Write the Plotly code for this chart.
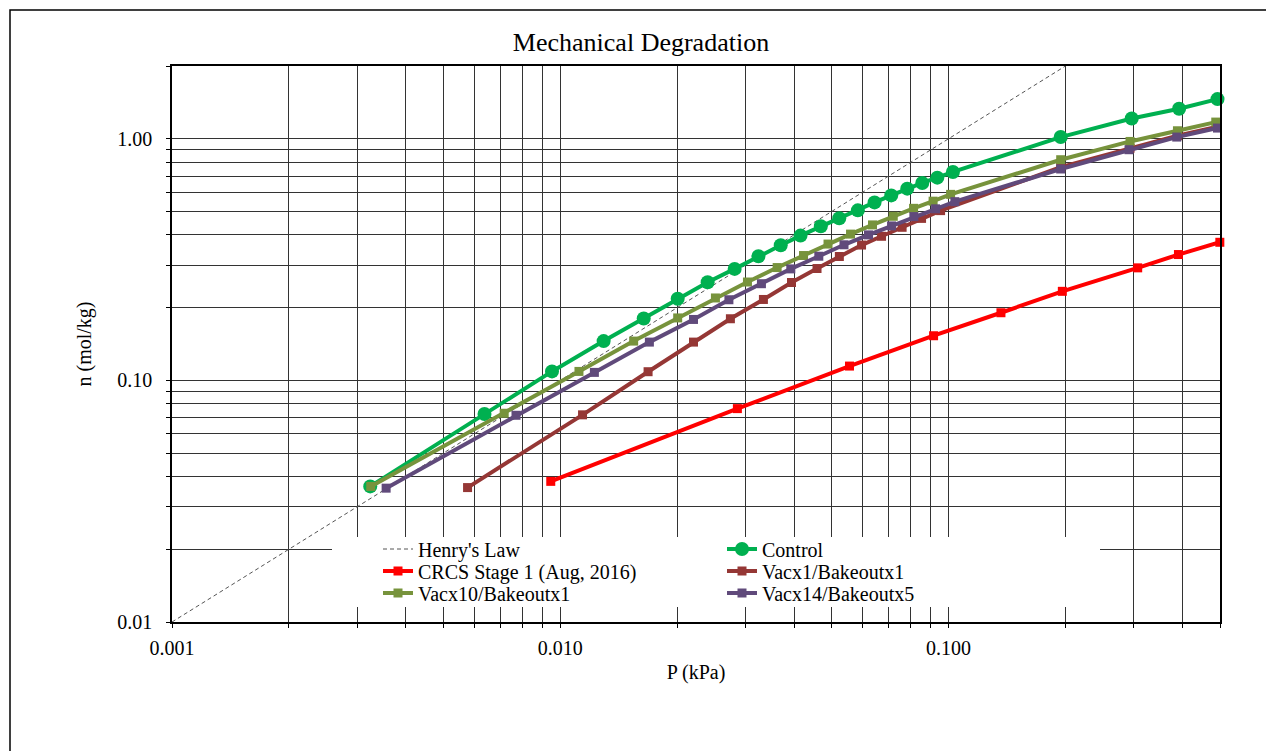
import plotly.graph_objects as go

# ---- data ----
henry_p = [0.001, 0.2]
henry_n = [0.01, 2.0]

control_p = [0.00324, 0.00638, 0.00952, 0.01293, 0.0164, 0.02006, 0.02396, 0.02812, 0.03238, 0.03696,
             0.04156, 0.04688, 0.05229, 0.05838, 0.06446, 0.07117, 0.07826, 0.08554, 0.09353, 0.1026,
             0.1944, 0.2962, 0.3923, 0.4926]
control_n = [0.0364, 0.0726, 0.1089, 0.1454, 0.1804, 0.2176, 0.2548, 0.2893, 0.3264, 0.3623,
             0.3973, 0.4341, 0.4686, 0.5055, 0.5453, 0.5828, 0.6214, 0.6561, 0.6901, 0.7286,
             1.016, 1.213, 1.330, 1.459]

crcs_p = [0.00945, 0.02858, 0.05557, 0.09149, 0.1364, 0.1963, 0.3069, 0.3908, 0.4995]
crcs_n = [0.0382, 0.0764, 0.1146, 0.153, 0.1905, 0.2336, 0.2922, 0.3317, 0.3728]

vac1_p = [0.00577, 0.01141, 0.01683, 0.02203, 0.02742, 0.03335, 0.03939, 0.04583, 0.05232, 0.05968,
          0.06719, 0.07591, 0.08519, 0.09537, 0.1944, 0.2933, 0.3885, 0.4926]
vac1_n = [0.036, 0.072, 0.1086, 0.144, 0.1799, 0.2162, 0.2541, 0.2903, 0.3255, 0.3631,
          0.3947, 0.43, 0.4681, 0.5041, 0.7624, 0.9136, 1.029, 1.121]

vac10_p = [0.00325, 0.00717, 0.01117, 0.01545, 0.02006, 0.02509, 0.03034, 0.03618, 0.0423, 0.04892,
           0.05591, 0.06369, 0.07203, 0.08124, 0.09123, 0.1012, 0.1944, 0.2933, 0.3885, 0.4876]
vac10_n = [0.0364, 0.0731, 0.1089, 0.1454, 0.1813, 0.2193, 0.2553, 0.293, 0.3286, 0.3665,
           0.403, 0.4399, 0.4776, 0.5152, 0.5516, 0.5885, 0.8188, 0.9746, 1.079, 1.172]

vac14_p = [0.00356, 0.00769, 0.01224, 0.01696, 0.02203, 0.02718, 0.03296, 0.03923, 0.04632, 0.05378,
           0.06219, 0.0713, 0.08139, 0.09258, 0.1038, 0.1944, 0.2915, 0.3869, 0.4926]
vac14_n = [0.0358, 0.0717, 0.1079, 0.144, 0.1787, 0.2156, 0.2512, 0.2893, 0.3264, 0.364,
           0.4, 0.4357, 0.4762, 0.5128, 0.549, 0.7495, 0.9006, 1.016, 1.107]

x_tickvals = [0.001, 0.01, 0.1]
x_ticktext = ["0.001", "0.010", "0.100"]
y_tickvals = [0.01, 0.1, 1.0]
y_ticktext = ["0.01", "0.10", "1.00"]

X_RANGE = [-3, -0.30103]   # log10 of 0.001 .. 0.5
Y_RANGE = [-2, 0.30103]    # log10 of 0.01 .. 2

FONT = "Liberation Serif, Times New Roman, serif"
GRID = "#333333"

# page layout (the page body has an 8px margin)
OFF = 8
WF, HF = 1274 - OFF, 751 - OFF
L, R, T = 172 - OFF, 54, 66 - OFF
B = HF - (622 - OFF)
PW, PH = WF - L - R, HF - T - B


def fx(page_x):
    return (page_x - OFF - L) / PW


def fy(page_y):
    return (HF - B - (page_y - OFF)) / PH


def dx(page_x):  # page pixel -> data value on the log x axis
    return 10 ** (X_RANGE[0] + fx(page_x) * (X_RANGE[1] - X_RANGE[0]))


def dy(page_y):  # page pixel -> data value on the log y axis
    return 10 ** (Y_RANGE[0] + fy(page_y) * (Y_RANGE[1] - Y_RANGE[0]))


fig = go.Figure()

# legend slots: (legend id, column x, row y) in page pixels
slots = {
    "legend": (378, 549), "legend2": (722, 549),
    "legend3": (378, 571), "legend4": (722, 571),
    "legend5": (378, 593), "legend6": (722, 593),
}

fig.add_trace(go.Scatter(x=henry_p, y=henry_n, name="Henry's Law", mode="lines",
                         line=dict(color="#555555", width=1, dash="4px,3px"),
                         legend="legend"))


def series(px, n, name, color, symbol, size, leg):
    fig.add_trace(go.Scatter(x=px, y=n, name=name, mode="lines+markers",
                             line=dict(color=color, width=4),
                             marker=dict(color=color, symbol=symbol, size=size),
                             cliponaxis=False, legend=leg))


series(control_p, control_n, "Control", "#00B050", "circle", 14, "legend2")
series(crcs_p, crcs_n, "CRCS Stage 1 (Aug, 2016)", "#FF0000", "square", 9, "legend3")
series(vac1_p, vac1_n, "Vacx1/Bakeoutx1", "#953735", "square", 9, "legend4")
series(vac10_p, vac10_n, "Vacx10/Bakeoutx1", "#77933C", "square", 9, "legend5")
series(vac14_p, vac14_n, "Vacx14/Bakeoutx5", "#604A7B", "square", 9, "legend6")

x_minor = [m * 10.0 ** e for e in range(-3, 0) for m in range(2, 10)]
y_minor = [m * 10.0 ** e for e in range(-2, 1) for m in range(2, 10) if m * 10.0 ** e <= 2.0]

legends = {}
for key, (lx, ly) in slots.items():
    legends[key] = dict(x=fx(lx), xanchor="left", y=fy(ly), yanchor="middle",
                        bgcolor="rgba(0,0,0,0)", borderwidth=0,
                        font=dict(size=20, family=FONT, color="black"),
                        itemwidth=30)

fig.update_layout(
    width=WF, height=HF,
    margin=dict(l=L, r=R, t=T, b=B, autoexpand=False),
    paper_bgcolor="white", plot_bgcolor="white",
    font=dict(family=FONT, color="black", size=20),
    title=dict(text="Mechanical Degradation", x=0.5, xanchor="center",
               y=1 - (42 - OFF) / HF, yanchor="middle", font=dict(size=26, family=FONT)),
    showlegend=True,
    xaxis=dict(type="log", range=X_RANGE, tickmode="array",
               tickvals=x_tickvals, ticktext=x_ticktext,
               showgrid=True, gridcolor=GRID, gridwidth=1,
               ticks="outside", ticklen=4, tickcolor="black",
               showline=True, linecolor="black", linewidth=1.5, mirror=True,
               minor=dict(tickmode="array", tickvals=x_minor, showgrid=True,
                          gridcolor=GRID, gridwidth=1, ticks="outside", ticklen=4, tickcolor="black"),
               title=dict(text="P (kPa)", standoff=7, font=dict(size=20)),
               ticklabelstandoff=3, zeroline=False),
    yaxis=dict(type="log", range=Y_RANGE, tickmode="array",
               tickvals=y_tickvals, ticktext=y_ticktext,
               showgrid=True, gridcolor=GRID, gridwidth=1,
               ticks="outside", ticklen=4, tickcolor="black",
               showline=True, linecolor="black", linewidth=1.5, mirror=True,
               minor=dict(tickmode="array", tickvals=y_minor, showgrid=True,
                          gridcolor=GRID, gridwidth=1, ticks="outside", ticklen=4, tickcolor="black"),
               title=dict(text="n (mol/kg)", standoff=20, font=dict(size=20)),
               ticklabelstandoff=10, zeroline=False),
    shapes=[
        # white legend box covering gridlines (between grid and traces)
        dict(type="rect", xref="x", yref="y", layer="between",
             x0=dx(332), x1=dx(1100), y0=dy(607), y1=dy(537),
             fillcolor="white", line=dict(width=0)),
        # outer chart border
        dict(type="rect", xref="paper", yref="paper", layer="above",
             x0=fx(10), x1=fx(1300), y0=fy(800), y1=fy(10),
             fillcolor="rgba(0,0,0,0)", line=dict(color="black", width=1.5)),
    ],
    **legends,
)

fig.write_html("out.html")
